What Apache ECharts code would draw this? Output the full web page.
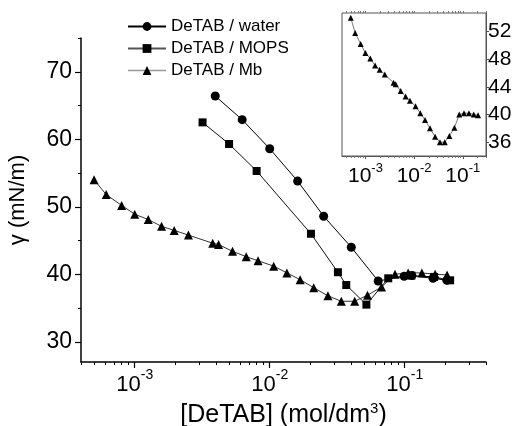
<!DOCTYPE html>
<html>
<head>
<meta charset="utf-8">
<script src="https://cdn.jsdelivr.net/npm/echarts@6/dist/echarts.min.js"></script>
<style>
html, body { margin: 0; padding: 0; background: #fff; }
#chart { width: 519px; height: 426px; }
</style>
</head>
<body>
<div id="chart"></div>
<script>
// surface tension gamma (mN/m) vs [DeTAB] (mol/dm3)
var waterConc  = [0.00395, 0.00625, 0.0100, 0.0161, 0.0251, 0.0402, 0.0636, 0.0990, 0.113, 0.162, 0.205];
var waterGamma = [66.4, 62.9, 58.6, 53.8, 48.6, 44.0, 39.0, 39.7, 39.8, 39.4, 39.1];

var mopsConc  = [0.00318, 0.0050, 0.0080, 0.0202, 0.0320, 0.0369, 0.0520, 0.0755, 0.112, 0.165, 0.217];
var mopsGamma = [62.5, 59.3, 55.3, 46.0, 40.3, 38.4, 35.5, 39.4, 39.8, 39.6, 39.1];

var mbConc  = [0.00050, 0.000615, 0.00080, 0.0010, 0.00126, 0.00158, 0.00196, 0.0025, 0.00378, 0.00418,
               0.0053, 0.0067, 0.0082, 0.0107, 0.0134, 0.0168, 0.0212, 0.0270, 0.0339, 0.0426,
               0.0530, 0.0673, 0.0847, 0.106, 0.134, 0.168, 0.206];
var mbGamma = [54.0, 51.8, 50.2, 48.9, 48.1, 47.1, 46.5, 45.8, 44.6, 44.4,
               43.4, 42.6, 42.0, 41.2, 40.2, 39.2, 38.0, 36.8, 36.0, 36.0,
               36.9, 38.1, 40.0, 40.2, 40.2, 40.0, 39.9];

var mainYLabels = [30, 40, 50, 60, 70];
var mainYMinor = [35, 45, 55, 65, 75];
var insetYLabels = [36, 40, 44, 48, 52];
var decades = [-4, -3, -2, -1];
var minorMult = [2, 3, 4, 5, 6, 7, 8, 9];

function pairs(xs, ys) {
  return xs.map(function (x, i) { return [x, ys[i]]; });
}

// log10 positions of the 2..9 minor ticks
var minorLog = [];
decades.forEach(function (d) {
  minorMult.forEach(function (m) { minorLog.push(d + Math.log10(m)); });
});
var majorLog = [-3, -2, -1];

var FONT = 'Liberation Sans, Arial, sans-serif';

function powLabel(v) {
  var n = Math.log10(v);
  if (Math.abs(n - Math.round(n)) > 1e-6) return '';
  return '{b|10}{s|' + Math.round(n) + '}';
}

function supRich(big, small, raise) {
  return {
    b: { fontFamily: FONT, fontSize: big, color: '#000', verticalAlign: 'bottom' },
    s: { fontFamily: FONT, fontSize: small, color: '#000', verticalAlign: 'bottom', padding: [0, 0, raise, 0] }
  };
}

var chart = echarts.init(document.getElementById('chart'));

var mainX = { min: 0.0004, max: 0.4 };
var insetX = { min: 0.00033, max: 0.3 };

chart.setOption({
  animation: false,
  textStyle: { fontFamily: FONT, color: '#000' },
  grid: [
    { left: 81, top: 38, width: 405, height: 324, outerBoundsMode: 'none' },
    { left: 342, top: 13, width: 144, height: 143, show: true, borderColor: '#555', borderWidth: 1,
      backgroundColor: 'rgba(0,0,0,0)', outerBoundsMode: 'none' }
  ],
  legend: {
    orient: 'vertical',
    left: 127,
    top: 18,
    padding: 0,
    itemWidth: 38,
    itemHeight: 11,
    itemGap: 5,
    textStyle: { fontFamily: FONT, fontSize: 17, color: '#000' },
    data: [
      { name: 'DeTAB / water', lineStyle: { color: '#000', width: 2 } },
      { name: 'DeTAB / MOPS', lineStyle: { color: '#555', width: 2 } },
      { name: 'DeTAB / Mb', lineStyle: { color: '#999', width: 1.5 } }
    ]
  },
  xAxis: [
    {
      type: 'log', gridIndex: 0, position: 'bottom', logBase: 10, min: mainX.min, max: mainX.max,
      axisLine: { lineStyle: { color: '#000', width: 1.5 } },
      axisTick: { inside: false, length: 6, lineStyle: { color: '#000', width: 1.2 } },
      axisLabel: {
        margin: 6, fontSize: 22, showMinLabel: false, showMaxLabel: false, formatter: powLabel,
        rich: supRich(22, 14, 14)
      },
      splitLine: { show: false },
      name: '[DeTAB] (mol/dm{s|3})',
      nameLocation: 'middle',
      nameGap: 34,
      nameTextStyle: {
        fontFamily: FONT, fontSize: 25, color: '#000',
        rich: {
          s: { fontFamily: FONT, fontSize: 15, color: '#000', verticalAlign: 'bottom', padding: [0, 0, 14, 0] }
        }
      }
    },
    {
      type: 'value', gridIndex: 0, position: 'bottom', min: Math.log10(mainX.min), max: Math.log10(mainX.max),
      axisLine: { show: false },
      axisTick: { show: true, inside: false, length: 3, customValues: minorLog, lineStyle: { color: '#000' } },
      axisLabel: { show: false },
      splitLine: { show: false }
    },
    {
      type: 'log', gridIndex: 1, position: 'bottom', logBase: 10, min: insetX.min, max: insetX.max,
      axisLine: { lineStyle: { color: '#555', width: 1 } },
      axisTick: { inside: false, length: 3, lineStyle: { color: '#555' } },
      axisLabel: {
        margin: 6, fontSize: 21, showMinLabel: false, showMaxLabel: false, formatter: powLabel,
        rich: supRich(21, 13, 12)
      },
      splitLine: { show: false }
    },
    {
      type: 'value', gridIndex: 1, position: 'bottom', min: Math.log10(insetX.min), max: Math.log10(insetX.max),
      axisLine: { show: false },
      axisTick: { show: true, inside: false, length: 2, customValues: minorLog, lineStyle: { color: '#777' } },
      axisLabel: { show: false },
      splitLine: { show: false }
    },
    {
      type: 'value', gridIndex: 1, position: 'top', min: Math.log10(insetX.min), max: Math.log10(insetX.max),
      axisLine: { show: false },
      axisTick: { show: true, inside: false, length: 2, customValues: minorLog.concat(majorLog), lineStyle: { color: '#777' } },
      axisLabel: { show: false },
      splitLine: { show: false }
    }
  ],
  yAxis: [
    {
      type: 'value', gridIndex: 0, position: 'left', min: 27, max: 75,
      axisLine: { show: true, lineStyle: { color: '#000', width: 1.5 } },
      axisTick: { show: true, inside: false, length: 6, customValues: mainYLabels, lineStyle: { color: '#000', width: 1.2 } },
      axisLabel: { customValues: mainYLabels, margin: 9, fontFamily: FONT, fontSize: 23, color: '#000' },
      splitLine: { show: false },
      name: 'γ (mN/m)',
      nameLocation: 'middle',
      nameRotate: 90,
      nameGap: 52,
      nameTextStyle: { fontFamily: FONT, fontSize: 22, color: '#000' }
    },
    {
      type: 'value', gridIndex: 0, position: 'left', min: 27, max: 75,
      axisLine: { show: false },
      axisTick: { show: true, inside: false, length: 3, customValues: mainYMinor, lineStyle: { color: '#000' } },
      axisLabel: { show: false },
      splitLine: { show: false }
    },
    {
      type: 'value', gridIndex: 1, position: 'right', min: 34, max: 54.7,
      axisLine: { show: true, lineStyle: { color: '#555', width: 1 } },
      axisTick: { show: true, inside: false, length: 3, customValues: insetYLabels, lineStyle: { color: '#555' } },
      axisLabel: { customValues: insetYLabels, margin: 2, fontFamily: FONT, fontSize: 21, color: '#000' },
      splitLine: { show: false }
    }
  ],
  series: [
    {
      name: 'DeTAB / water', type: 'line', xAxisIndex: 0, yAxisIndex: 0,
      data: pairs(waterConc, waterGamma),
      symbol: 'circle', symbolSize: 9,
      itemStyle: { color: '#000' },
      lineStyle: { color: '#000', width: 1 }
    },
    {
      name: 'DeTAB / MOPS', type: 'line', xAxisIndex: 0, yAxisIndex: 0,
      data: pairs(mopsConc, mopsGamma),
      symbol: 'rect', symbolSize: 8,
      itemStyle: { color: '#000' },
      lineStyle: { color: '#111', width: 1 }
    },
    {
      name: 'DeTAB / Mb', type: 'line', xAxisIndex: 0, yAxisIndex: 0,
      data: pairs(mbConc, mbGamma),
      symbol: 'triangle', symbolSize: 9,
      itemStyle: { color: '#000' },
      lineStyle: { color: '#333', width: 1 }
    },
    {
      name: 'inset', type: 'line', xAxisIndex: 2, yAxisIndex: 2,
      data: pairs(mbConc, mbGamma),
      symbol: 'triangle', symbolSize: 6,
      itemStyle: { color: '#000' },
      lineStyle: { color: '#555', width: 0.8 }
    }
  ]
});
</script>
</body>
</html>
